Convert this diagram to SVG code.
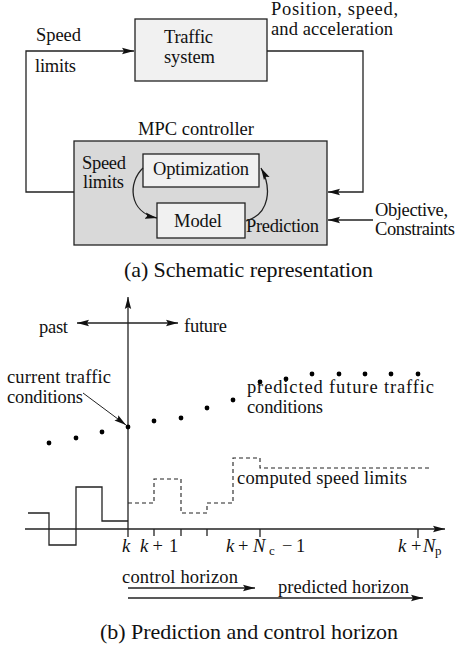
<svg xmlns="http://www.w3.org/2000/svg" width="459" height="645" viewBox="0 0 459 645">
<style>
text{font-family:'Liberation Serif','Times New Roman',Tinos,'Nimbus Roman','Nimbus Roman No9 L',FreeSerif,'DejaVu Serif','Noto Serif',serif;font-size:18.5px;fill:#111}
.cap{font-size:22px}
.ln{fill:none;stroke:#222;stroke-width:1.3}
.box{stroke:#222;stroke-width:1.3}
.dash{fill:none;stroke:#222;stroke-width:1.1;stroke-dasharray:4 3}
.i{font-style:italic}
.sub{font-size:13px}
.dot{fill:#000}
</style>
<defs>
<marker id="ah" markerUnits="userSpaceOnUse" markerWidth="13" markerHeight="8" refX="12" refY="4" orient="auto">
<path d="M0,0.8 L12,4 L0,7.2 L2,4 z" fill="#111"/>
</marker>
<marker id="ahs" markerUnits="userSpaceOnUse" markerWidth="12" markerHeight="8" refX="0" refY="4" orient="auto">
<path d="M12,0.8 L0,4 L12,7.2 L10,4 z" fill="#111"/>
</marker>
</defs>

<!-- (a) schematic -->
<g id="traffic">
<rect class="box" x="135" y="19" width="132" height="62" fill="#f1f1f1"/>
<text x="164" y="43" textLength="49">Traffic</text>
<text x="164" y="63" textLength="51">system</text>
</g>
<g id="mpc">
<rect class="box" x="74" y="141" width="253" height="104" fill="#d9d9d9"/>
<text x="138" y="135" textLength="116">MPC controller</text>
<text x="82" y="169" textLength="44">Speed</text>
<text x="83" y="187.5" textLength="41">limits</text>
<text x="246" y="232" textLength="73">Prediction</text>
</g>
<g id="optimization">
<rect class="box" x="143" y="154" width="116" height="33" fill="#f1f1f1"/>
<text x="153" y="175" textLength="96">Optimization</text>
</g>
<g id="model">
<rect class="box" x="157" y="203" width="88" height="35" fill="#f1f1f1"/>
<text x="174" y="227" textLength="48">Model</text>
</g>
<g id="labels-a">
<text x="271" y="15" textLength="127">Position, speed,</text>
<text x="271" y="35" textLength="122">and acceleration</text>
<text x="36" y="41" textLength="45">Speed</text>
<text x="35" y="72" textLength="41">limits</text>
<text x="375" y="216" textLength="73">Objective,</text>
<text x="375" y="235" textLength="80">Constraints</text>
<text class="cap" x="124" y="277" textLength="249">(a) Schematic representation</text>
</g>
<g id="connectors-a">
<polyline class="ln" points="74,192 26,192 26,51 134,51" marker-end="url(#ah)"/>
<polyline class="ln" points="267,51 363,51 363,192 328,192" marker-end="url(#ah)"/>
<line class="ln" x1="373" y1="220" x2="328" y2="220" marker-end="url(#ah)"/>
<path class="ln" d="M143,168 C128,182 128,212 157,218" marker-end="url(#ah)"/>
<path class="ln" d="M246,221 C270,214 272,188 261,168" marker-end="url(#ah)"/>
</g>

<!-- (b) prediction and control horizon -->
<g id="axes">
<line class="ln" x1="128" y1="537" x2="128" y2="297" marker-end="url(#ah)"/>
<line class="ln" x1="25" y1="529" x2="445" y2="529" marker-end="url(#ah)"/>
<line class="ln" x1="77" y1="323" x2="178" y2="323" marker-start="url(#ahs)" marker-end="url(#ah)"/>
<g class="ln">
<line x1="154" y1="529" x2="154" y2="536"/>
<line x1="181" y1="529" x2="181" y2="536"/>
<line x1="207" y1="529" x2="207" y2="536"/>
<line x1="260" y1="529" x2="260" y2="537"/>
<line x1="418" y1="529" x2="418" y2="538"/>
</g>
</g>
<g id="signals">
<polyline class="ln" points="28,513 49,513 49,545 76,545 76,487 102,487 102,521 128,521"/>
<polyline class="dash" points="128,503 154,503 154,479 181,479 181,513 207,513 207,503 233,503 233,458 260,458 260,468 430,468"/>
</g>
<g id="dots" class="dot">
<circle cx="49" cy="443" r="2.4"/>
<circle cx="76" cy="438" r="2.4"/>
<circle cx="102" cy="432" r="2.4"/>
<circle cx="128" cy="427" r="2.4"/>
<circle cx="154" cy="421" r="2.4"/>
<circle cx="181" cy="418" r="2.4"/>
<circle cx="207" cy="408" r="2.4"/>
<circle cx="233" cy="400" r="2.4"/>
<circle cx="260" cy="382" r="2.4"/>
<circle cx="286" cy="379" r="2.4"/>
<circle cx="312" cy="374" r="2.4"/>
<circle cx="339" cy="374" r="2.4"/>
<circle cx="365" cy="374" r="2.4"/>
<circle cx="391" cy="374" r="2.4"/>
<circle cx="418" cy="374" r="2.4"/>
</g>
<g id="horizons">
<line class="ln" x1="128" y1="588" x2="255" y2="588" marker-end="url(#ah)"/>
<line class="ln" x1="128" y1="598" x2="423" y2="598" marker-end="url(#ah)"/>
<line x1="83" y1="393" x2="126" y2="425" stroke="#222" stroke-width="1" marker-end="url(#ah)"/>
</g>
<g id="labels-b">
<text x="39" y="333" textLength="29">past</text>
<text x="184" y="332" textLength="43">future</text>
<text x="7" y="383" textLength="104">current traffic</text>
<text x="7" y="403" textLength="76">conditions</text>
<text x="247" y="393" textLength="187">predicted future traffic</text>
<text x="247" y="413" textLength="76">conditions</text>
<text x="237" y="484" textLength="170">computed speed limits</text>
<text x="122" y="583" textLength="116">control horizon</text>
<text x="278" y="593" textLength="131">predicted horizon</text>
<text class="i" x="122" y="552">k</text>
<text y="552"><tspan class="i" x="140">k</tspan><tspan x="152.5">+</tspan><tspan x="169">1</tspan></text>
<text y="552"><tspan class="i" x="226">k</tspan><tspan x="238">+</tspan><tspan class="i" x="253">N</tspan><tspan class="sub" x="269" y="555">c</tspan><tspan x="282" y="552">−</tspan><tspan x="296">1</tspan></text>
<text y="552"><tspan class="i" x="398">k</tspan><tspan x="411">+</tspan><tspan class="i" x="423">N</tspan><tspan class="sub" x="435" y="555">p</tspan></text>
<text class="cap" x="100" y="639" textLength="298">(b) Prediction and control horizon</text>
</g>
</svg>
